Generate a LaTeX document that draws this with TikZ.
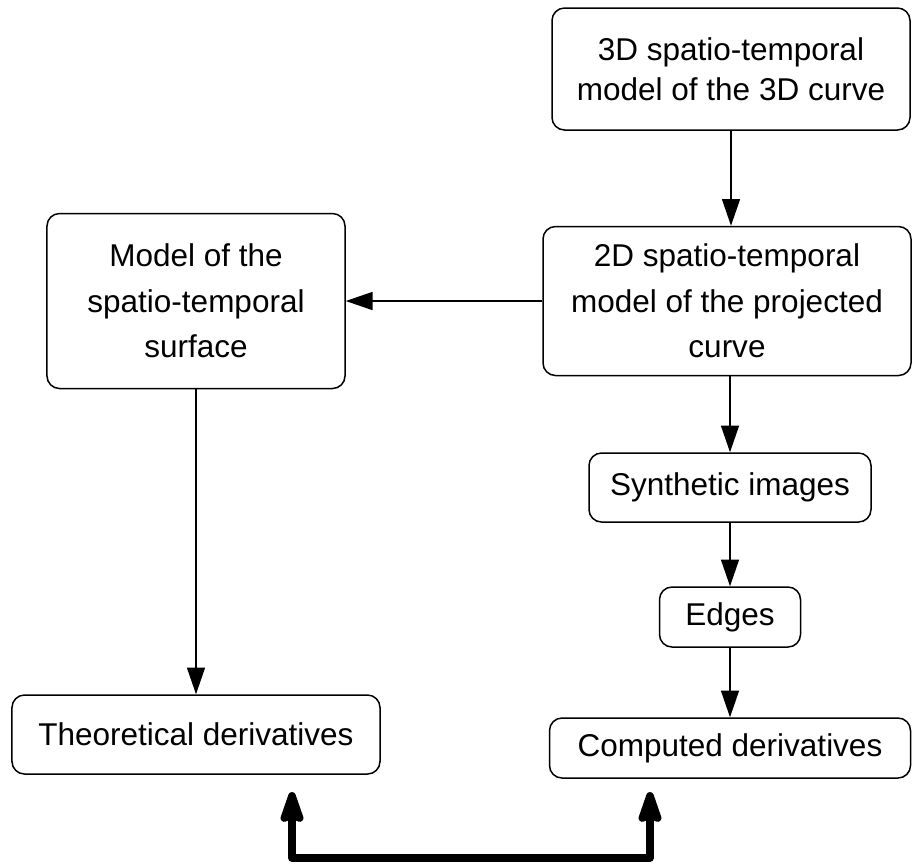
\documentclass[tikz,border=0pt]{standalone}
\usepackage{fontspec}
\setmainfont{Liberation Sans}
\usepackage{tikz}
\usetikzlibrary{arrows.meta}
\tikzset{>/.tip={Triangle[length=10.7pt,width=7.2pt]},
  blk/.style={draw, rounded corners=5pt, line width=0.6pt, align=center, inner sep=0pt,
    font=\fontsize{12.6}{18.2}\selectfont},
  link/.style={->, line width=0.6pt},
  biglink/.style={{Stealth[length=16pt,width=10.5pt,inset=2pt,round]}-{Stealth[length=16pt,width=10.5pt,inset=2pt,round]},
    line width=3pt, line join=round}}

\begin{document}
\begin{tikzpicture}[x=0.4pt, y=-0.4pt]
\useasboundingbox (0,0) rectangle (912,863);
\node[blk, minimum width=143.2pt, minimum height=48.8pt, font=\fontsize{12.6}{16}\selectfont] (A) at (731,69) {3D spatio-temporal\\model of the 3D curve};
\node[blk, minimum width=147.2pt, minimum height=59.6pt] (B) at (727,301) {2D spatio-temporal\\model of the projected\\curve};
\node[blk, minimum width=119.2pt, minimum height=70pt] (surf) at (196,301) {Model of the\\spatio-temporal\\surface};
\node[blk, minimum width=112.8pt, minimum height=27.6pt] (synth) at (730,487.5) {Synthetic images};
\node[blk, minimum width=56.4pt, minimum height=24pt] (edges) at (730,617) {Edges};
\node[blk, minimum width=144.4pt, minimum height=24pt] (comp) at (730,748) {Computed derivatives};
\node[blk, minimum width=147.2pt, minimum height=31.6pt] (theo) at (196,734.5) {Theoretical derivatives};
\draw[link] (A.south) -- (A.south |- B.north);
\draw[link] (B.west) -- (surf.east);
\draw[link] (B.south -| synth) -- (synth.north);
\draw[link] (synth) -- (edges);
\draw[link] (edges) -- (comp);
\draw[link] (surf) -- (theo);
% thick link between the two results
\coordinate (tl) at (292,792);
\coordinate (bl) at (292,858);
\coordinate (br) at (650,858);
\coordinate (tr) at (650,792);
\draw[biglink] (tl) -- (bl) -- (br) -- (tr);
\end{tikzpicture}
\end{document}
